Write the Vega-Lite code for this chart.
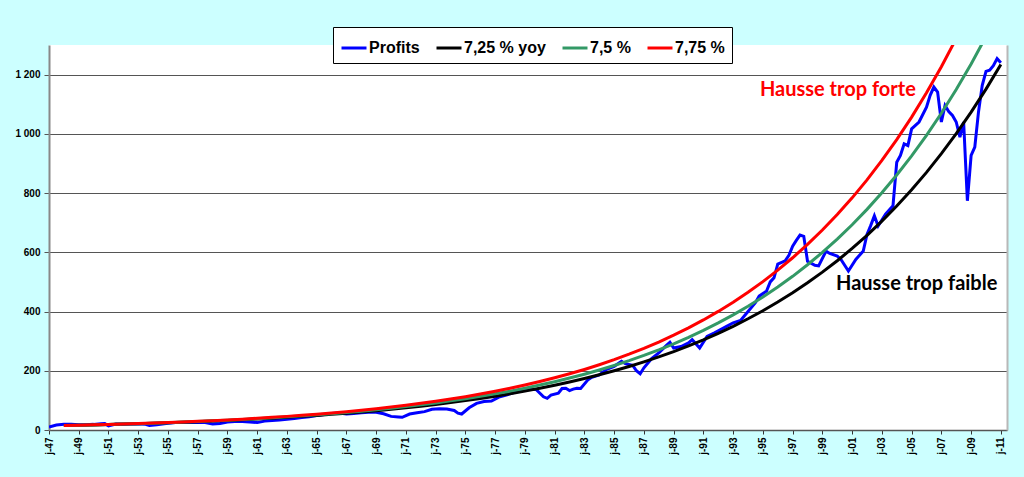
{
  "$schema": "https://vega.github.io/schema/vega-lite/v6.json",
  "width": 958,
  "height": 385,
  "autosize": "none",
  "padding": {"left": 49, "top": 45, "right": 17, "bottom": 47},
  "background": "#ccffff",
  "view": {"fill": "white", "stroke": null},
  "config": {"font": "Liberation Sans"},
  "datasets": {
    "series": [
      {"d": "1947-01-01", "Profits": 10}, {"d": "1947-07-01", "Profits": 17}, {"d": "1948-01-01", "Profits": 19}, {"d": "1948-07-01", "Profits": 19},
      {"d": "1949-01-01", "Profits": 18}, {"d": "1949-07-01", "Profits": 18}, {"d": "1950-01-01", "Profits": 19}, {"d": "1950-07-01", "Profits": 21},
      {"d": "1950-10-01", "Profits": 22}, {"d": "1951-01-01", "Profits": 14}, {"d": "1951-07-01", "Profits": 20}, {"d": "1952-01-01", "Profits": 19},
      {"d": "1952-07-01", "Profits": 20}, {"d": "1953-01-01", "Profits": 21}, {"d": "1953-07-01", "Profits": 19}, {"d": "1953-10-01", "Profits": 15},
      {"d": "1954-04-01", "Profits": 18}, {"d": "1955-01-01", "Profits": 23}, {"d": "1955-07-01", "Profits": 25}, {"d": "1956-01-01", "Profits": 25},
      {"d": "1956-07-01", "Profits": 25}, {"d": "1957-01-01", "Profits": 26}, {"d": "1957-07-01", "Profits": 25}, {"d": "1958-01-01", "Profits": 20},
      {"d": "1958-07-01", "Profits": 22}, {"d": "1959-01-01", "Profits": 27}, {"d": "1959-07-01", "Profits": 29}, {"d": "1960-01-01", "Profits": 29},
      {"d": "1960-07-01", "Profits": 27}, {"d": "1961-01-01", "Profits": 25}, {"d": "1961-07-01", "Profits": 30}, {"d": "1962-01-01", "Profits": 32},
      {"d": "1962-07-01", "Profits": 34}, {"d": "1963-01-01", "Profits": 36}, {"d": "1963-07-01", "Profits": 39}, {"d": "1964-01-01", "Profits": 42},
      {"d": "1964-07-01", "Profits": 45}, {"d": "1965-01-01", "Profits": 49}, {"d": "1965-07-01", "Profits": 52}, {"d": "1966-01-01", "Profits": 56},
      {"d": "1966-07-01", "Profits": 57}, {"d": "1967-01-01", "Profits": 54}, {"d": "1967-07-01", "Profits": 56}, {"d": "1968-01-01", "Profits": 58},
      {"d": "1968-07-01", "Profits": 60}, {"d": "1969-01-01", "Profits": 60}, {"d": "1969-07-01", "Profits": 55}, {"d": "1970-01-01", "Profits": 46},
      {"d": "1970-07-01", "Profits": 44}, {"d": "1970-10-01", "Profits": 43}, {"d": "1971-04-01", "Profits": 54}, {"d": "1971-10-01", "Profits": 58},
      {"d": "1972-04-01", "Profits": 62}, {"d": "1972-10-01", "Profits": 70}, {"d": "1973-04-01", "Profits": 72}, {"d": "1973-10-01", "Profits": 71},
      {"d": "1974-04-01", "Profits": 66}, {"d": "1974-07-01", "Profits": 57}, {"d": "1974-10-01", "Profits": 54}, {"d": "1975-04-01", "Profits": 75},
      {"d": "1975-10-01", "Profits": 90}, {"d": "1976-04-01", "Profits": 96}, {"d": "1976-10-01", "Profits": 98}, {"d": "1977-04-01", "Profits": 111},
      {"d": "1977-10-01", "Profits": 118}, {"d": "1978-04-01", "Profits": 126}, {"d": "1978-10-01", "Profits": 134}, {"d": "1979-04-01", "Profits": 138},
      {"d": "1979-10-01", "Profits": 137}, {"d": "1980-04-01", "Profits": 112}, {"d": "1980-07-01", "Profits": 107}, {"d": "1980-10-01", "Profits": 118},
      {"d": "1981-04-01", "Profits": 124}, {"d": "1981-07-01", "Profits": 140}, {"d": "1981-10-01", "Profits": 141}, {"d": "1982-01-01", "Profits": 133},
      {"d": "1982-04-01", "Profits": 138}, {"d": "1982-07-01", "Profits": 141}, {"d": "1982-10-01", "Profits": 140}, {"d": "1983-04-01", "Profits": 170},
      {"d": "1983-07-01", "Profits": 178}, {"d": "1984-01-01", "Profits": 186}, {"d": "1984-07-01", "Profits": 205}, {"d": "1985-01-01", "Profits": 215},
      {"d": "1985-07-01", "Profits": 232}, {"d": "1985-10-01", "Profits": 224}, {"d": "1986-04-01", "Profits": 218}, {"d": "1986-07-01", "Profits": 200},
      {"d": "1986-10-01", "Profits": 190}, {"d": "1987-01-01", "Profits": 210}, {"d": "1987-07-01", "Profits": 240}, {"d": "1988-01-01", "Profits": 260},
      {"d": "1988-07-01", "Profits": 285}, {"d": "1988-10-01", "Profits": 296}, {"d": "1989-01-01", "Profits": 277}, {"d": "1989-07-01", "Profits": 282},
      {"d": "1990-01-01", "Profits": 294}, {"d": "1990-04-01", "Profits": 305}, {"d": "1990-10-01", "Profits": 277}, {"d": "1991-04-01", "Profits": 316},
      {"d": "1991-10-01", "Profits": 328}, {"d": "1992-07-01", "Profits": 348}, {"d": "1993-01-01", "Profits": 362}, {"d": "1993-07-01", "Profits": 370},
      {"d": "1994-01-01", "Profits": 400}, {"d": "1994-07-01", "Profits": 430}, {"d": "1994-10-01", "Profits": 452}, {"d": "1995-04-01", "Profits": 469},
      {"d": "1995-07-01", "Profits": 500}, {"d": "1995-10-01", "Profits": 514}, {"d": "1996-01-01", "Profits": 560}, {"d": "1996-07-01", "Profits": 571},
      {"d": "1996-10-01", "Profits": 590}, {"d": "1997-01-01", "Profits": 621}, {"d": "1997-04-01", "Profits": 640}, {"d": "1997-07-01", "Profits": 658},
      {"d": "1997-10-01", "Profits": 654}, {"d": "1998-01-01", "Profits": 570}, {"d": "1998-07-01", "Profits": 556}, {"d": "1998-10-01", "Profits": 554},
      {"d": "1999-04-01", "Profits": 604}, {"d": "1999-07-01", "Profits": 596}, {"d": "2000-01-01", "Profits": 587}, {"d": "2000-04-01", "Profits": 576},
      {"d": "2000-10-01", "Profits": 537}, {"d": "2001-04-01", "Profits": 576}, {"d": "2001-07-01", "Profits": 590}, {"d": "2001-10-01", "Profits": 604},
      {"d": "2002-01-01", "Profits": 660}, {"d": "2002-04-01", "Profits": 690}, {"d": "2002-07-01", "Profits": 723}, {"d": "2002-10-01", "Profits": 689},
      {"d": "2003-04-01", "Profits": 729}, {"d": "2003-10-01", "Profits": 757}, {"d": "2004-01-01", "Profits": 904}, {"d": "2004-04-01", "Profits": 927},
      {"d": "2004-07-01", "Profits": 966}, {"d": "2004-10-01", "Profits": 960}, {"d": "2005-01-01", "Profits": 1017}, {"d": "2005-07-01", "Profits": 1040},
      {"d": "2006-01-01", "Profits": 1090}, {"d": "2006-04-01", "Profits": 1130}, {"d": "2006-07-01", "Profits": 1158}, {"d": "2006-10-01", "Profits": 1141},
      {"d": "2007-01-01", "Profits": 1040}, {"d": "2007-04-01", "Profits": 1096}, {"d": "2007-07-01", "Profits": 1075}, {"d": "2007-10-01", "Profits": 1062},
      {"d": "2008-01-01", "Profits": 1040}, {"d": "2008-04-01", "Profits": 989}, {"d": "2008-07-01", "Profits": 1040}, {"d": "2008-10-01", "Profits": 774},
      {"d": "2009-01-01", "Profits": 927}, {"d": "2009-04-01", "Profits": 955}, {"d": "2009-07-01", "Profits": 1074}, {"d": "2009-10-01", "Profits": 1164},
      {"d": "2010-01-01", "Profits": 1211}, {"d": "2010-04-01", "Profits": 1215}, {"d": "2010-07-01", "Profits": 1230}, {"d": "2010-10-01", "Profits": 1254},
      {"d": "2011-01-01", "Profits": 1240},
      {"d": "1948-01-01", "7,25 % yoy": 15.0, "7,5 %": 15.0, "7,75 %": 15.0}, {"d": "1949-01-01", "7,25 % yoy": 16.1, "7,5 %": 16.1, "7,75 %": 16.2},
      {"d": "1950-01-01", "7,25 % yoy": 17.3, "7,5 %": 17.3, "7,75 %": 17.4}, {"d": "1951-01-01", "7,25 % yoy": 18.5, "7,5 %": 18.6, "7,75 %": 18.8},
      {"d": "1952-01-01", "7,25 % yoy": 19.9, "7,5 %": 20.0, "7,75 %": 20.2}, {"d": "1953-01-01", "7,25 % yoy": 21.3, "7,5 %": 21.5, "7,75 %": 21.8},
      {"d": "1954-01-01", "7,25 % yoy": 22.8, "7,5 %": 23.1, "7,75 %": 23.5}, {"d": "1955-01-01", "7,25 % yoy": 24.5, "7,5 %": 24.9, "7,75 %": 25.3},
      {"d": "1956-01-01", "7,25 % yoy": 26.3, "7,5 %": 26.8, "7,75 %": 27.3}, {"d": "1957-01-01", "7,25 % yoy": 28.2, "7,5 %": 28.8, "7,75 %": 29.4},
      {"d": "1958-01-01", "7,25 % yoy": 30.2, "7,5 %": 30.9, "7,75 %": 31.6}, {"d": "1959-01-01", "7,25 % yoy": 32.4, "7,5 %": 33.2, "7,75 %": 34.1},
      {"d": "1960-01-01", "7,25 % yoy": 34.8, "7,5 %": 35.7, "7,75 %": 36.7}, {"d": "1961-01-01", "7,25 % yoy": 37.3, "7,5 %": 38.4, "7,75 %": 39.6},
      {"d": "1962-01-01", "7,25 % yoy": 40.0, "7,5 %": 41.3, "7,75 %": 42.7}, {"d": "1963-01-01", "7,25 % yoy": 42.9, "7,5 %": 44.4, "7,75 %": 46.0},
      {"d": "1964-01-01", "7,25 % yoy": 46.0, "7,5 %": 47.7, "7,75 %": 49.5}, {"d": "1965-01-01", "7,25 % yoy": 49.3, "7,5 %": 51.3, "7,75 %": 53.4},
      {"d": "1966-01-01", "7,25 % yoy": 52.9, "7,5 %": 55.1, "7,75 %": 57.5}, {"d": "1967-01-01", "7,25 % yoy": 56.7, "7,5 %": 59.3, "7,75 %": 62.0},
      {"d": "1968-01-01", "7,25 % yoy": 60.8, "7,5 %": 63.7, "7,75 %": 66.8}, {"d": "1969-01-01", "7,25 % yoy": 65.2, "7,5 %": 68.5, "7,75 %": 71.9},
      {"d": "1970-01-01", "7,25 % yoy": 70.0, "7,5 %": 73.6, "7,75 %": 77.5}, {"d": "1971-01-01", "7,25 % yoy": 75.0, "7,5 %": 79.2, "7,75 %": 83.5},
      {"d": "1972-01-01", "7,25 % yoy": 80.5, "7,5 %": 85.1, "7,75 %": 90.0}, {"d": "1973-01-01", "7,25 % yoy": 86.3, "7,5 %": 91.5, "7,75 %": 97.0},
      {"d": "1974-01-01", "7,25 % yoy": 92.6, "7,5 %": 98.3, "7,75 %": 104.5}, {"d": "1975-01-01", "7,25 % yoy": 99.3, "7,5 %": 105.7, "7,75 %": 112.6},
      {"d": "1976-01-01", "7,25 % yoy": 106.5, "7,5 %": 113.7, "7,75 %": 121.3}, {"d": "1977-01-01", "7,25 % yoy": 114.2, "7,5 %": 122.2, "7,75 %": 130.7},
      {"d": "1978-01-01", "7,25 % yoy": 122.5, "7,5 %": 131.3, "7,75 %": 140.8}, {"d": "1979-01-01", "7,25 % yoy": 131.4, "7,5 %": 141.2, "7,75 %": 151.7},
      {"d": "1980-01-01", "7,25 % yoy": 141.0, "7,5 %": 151.8, "7,75 %": 163.5}, {"d": "1981-01-01", "7,25 % yoy": 151.2, "7,5 %": 163.2, "7,75 %": 176.2},
      {"d": "1982-01-01", "7,25 % yoy": 162.1, "7,5 %": 175.4, "7,75 %": 189.8}, {"d": "1983-01-01", "7,25 % yoy": 173.9, "7,5 %": 188.5, "7,75 %": 204.5},
      {"d": "1984-01-01", "7,25 % yoy": 186.5, "7,5 %": 202.7, "7,75 %": 220.4}, {"d": "1985-01-01", "7,25 % yoy": 200.0, "7,5 %": 217.9, "7,75 %": 237.5},
      {"d": "1986-01-01", "7,25 % yoy": 214.5, "7,5 %": 234.2, "7,75 %": 255.9}, {"d": "1987-01-01", "7,25 % yoy": 230.1, "7,5 %": 251.8, "7,75 %": 275.7},
      {"d": "1988-01-01", "7,25 % yoy": 246.8, "7,5 %": 270.7, "7,75 %": 297.1}, {"d": "1989-01-01", "7,25 % yoy": 264.7, "7,5 %": 291.0, "7,75 %": 320.1},
      {"d": "1990-01-01", "7,25 % yoy": 283.9, "7,5 %": 312.8, "7,75 %": 344.9}, {"d": "1991-01-01", "7,25 % yoy": 304.5, "7,5 %": 336.3, "7,75 %": 371.6},
      {"d": "1992-01-01", "7,25 % yoy": 326.5, "7,5 %": 361.5, "7,75 %": 400.4}, {"d": "1993-01-01", "7,25 % yoy": 350.2, "7,5 %": 388.6, "7,75 %": 431.4},
      {"d": "1994-01-01", "7,25 % yoy": 375.6, "7,5 %": 417.7, "7,75 %": 464.9}, {"d": "1995-01-01", "7,25 % yoy": 402.8, "7,5 %": 449.1, "7,75 %": 500.9},
      {"d": "1996-01-01", "7,25 % yoy": 432.0, "7,5 %": 482.7, "7,75 %": 539.7}, {"d": "1997-01-01", "7,25 % yoy": 463.3, "7,5 %": 518.9, "7,75 %": 581.6},
      {"d": "1998-01-01", "7,25 % yoy": 496.9, "7,5 %": 557.9, "7,75 %": 626.6}, {"d": "1999-01-01", "7,25 % yoy": 533.0, "7,5 %": 599.7, "7,75 %": 675.2},
      {"d": "2000-01-01", "7,25 % yoy": 571.6, "7,5 %": 644.7, "7,75 %": 727.5}, {"d": "2001-01-01", "7,25 % yoy": 613.0, "7,5 %": 693.0, "7,75 %": 783.9},
      {"d": "2002-01-01", "7,25 % yoy": 657.5, "7,5 %": 745.0, "7,75 %": 844.6}, {"d": "2003-01-01", "7,25 % yoy": 705.2, "7,5 %": 800.9, "7,75 %": 910.1},
      {"d": "2004-01-01", "7,25 % yoy": 756.3, "7,5 %": 861.0, "7,75 %": 980.6}, {"d": "2005-01-01", "7,25 % yoy": 811.1, "7,5 %": 925.5, "7,75 %": 1056.6},
      {"d": "2006-01-01", "7,25 % yoy": 869.9, "7,5 %": 994.9, "7,75 %": 1138.5}, {"d": "2007-01-01", "7,25 % yoy": 933.0, "7,5 %": 1069.6, "7,75 %": 1226.7},
      {"d": "2008-01-01", "7,25 % yoy": 1000.6, "7,5 %": 1149.8, "7,75 %": 1321.8}, {"d": "2009-01-01", "7,25 % yoy": 1073.2, "7,5 %": 1236.0},
      {"d": "2010-01-01", "7,25 % yoy": 1151.0, "7,5 %": 1328.7}, {"d": "2011-01-01", "7,25 % yoy": 1234.4}
    ]
  },
  "layer": [
    {
      "data": {"name": "series"},
      "transform": [
        {"fold": ["Profits", "7,25 % yoy", "7,5 %", "7,75 %"], "as": ["s", "v"]},
        {"filter": "isValid(datum.v)"}
      ],
      "mark": {"type": "line", "strokeWidth": 3, "clip": true},
      "encoding": {
        "x": {
          "field": "d", "type": "temporal",
          "scale": {"type": "utc", "domain": ["1947-01-01", "2011-06-01"]},
          "axis": {
            "title": null, "grid": false, "tickCount": 40,
            "values": [
              {"year": 1947, "utc": true}, {"year": 1949, "utc": true}, {"year": 1951, "utc": true}, {"year": 1953, "utc": true},
              {"year": 1955, "utc": true}, {"year": 1957, "utc": true}, {"year": 1959, "utc": true}, {"year": 1961, "utc": true},
              {"year": 1963, "utc": true}, {"year": 1965, "utc": true}, {"year": 1967, "utc": true}, {"year": 1969, "utc": true},
              {"year": 1971, "utc": true}, {"year": 1973, "utc": true}, {"year": 1975, "utc": true}, {"year": 1977, "utc": true},
              {"year": 1979, "utc": true}, {"year": 1981, "utc": true}, {"year": 1983, "utc": true}, {"year": 1985, "utc": true},
              {"year": 1987, "utc": true}, {"year": 1989, "utc": true}, {"year": 1991, "utc": true}, {"year": 1993, "utc": true},
              {"year": 1995, "utc": true}, {"year": 1997, "utc": true}, {"year": 1999, "utc": true}, {"year": 2001, "utc": true},
              {"year": 2003, "utc": true}, {"year": 2005, "utc": true}, {"year": 2007, "utc": true}, {"year": 2009, "utc": true},
              {"year": 2011, "utc": true}
            ],
            "labelExpr": "'j-' + utcFormat(datum.value, '%y')",
            "labelAngle": 270, "labelAlign": "right", "labelBaseline": "middle",
            "labelFontSize": 10, "labelFontWeight": "bold", "labelColor": "black",
            "labelFlush": false, "labelOverlap": false, "labelPadding": 3,
            "tickColor": "#333", "tickSize": 4, "domainColor": "#555", "domainWidth": 1.5
          }
        },
        "y": {
          "field": "v", "type": "quantitative",
          "scale": {"domain": [0, 1300], "nice": false},
          "axis": {
            "title": null,
            "values": [0, 200, 400, 600, 800, 1000, 1200],
            "labelExpr": "replace(format(datum.value, ',d'), ',', ' ')",
            "labelFontSize": 10, "labelFontWeight": "bold", "labelColor": "black",
            "labelPadding": 4, "grid": true, "gridColor": "#555", "gridWidth": 1,
            "tickColor": "#555", "tickSize": 5, "domainColor": "#888", "domainWidth": 2
          }
        },
        "color": {
          "field": "s", "type": "nominal",
          "scale": {
            "domain": ["Profits", "7,25 % yoy", "7,5 %", "7,75 %"],
            "range": ["#0000ff", "#000000", "#339966", "#ff0000"]
          },
          "legend": {
            "title": null, "orient": "none", "legendX": 284, "legendY": -18,
            "direction": "horizontal", "symbolType": "stroke", "symbolStrokeWidth": 3,
            "symbolSize": 625, "labelFontSize": 16, "labelFontWeight": "bold",
            "labelColor": "black", "labelOffset": 1, "columnPadding": 10, "padding": 7,
            "fillColor": "white", "strokeColor": "black", "labelLimit": 200
          }
        }
      }
    },
    {
      "data": {"values": [{"d": "1994-10-20", "v": 1148, "t": "Hausse trop forte"}]},
      "mark": {"type": "text", "align": "left", "baseline": "middle", "font": "Lato", "fontWeight": "bold", "fontSize": 20, "color": "#ff0000"},
      "encoding": {
        "x": {"field": "d", "type": "temporal", "scale": {"type": "utc"}},
        "y": {
          "field": "v", "type": "quantitative",
          "scale": {"domain": [0, 1300], "nice": false},
          "axis": {"orient": "right", "title": null, "labels": false, "ticks": false, "grid": false, "domainColor": "#b8b8b8", "domainWidth": 2}
        },
        "text": {"field": "t"}
      }
    },
    {
      "data": {"values": [{"d": "1999-12-01", "v": 493, "t": "Hausse trop faible"}]},
      "mark": {"type": "text", "align": "left", "baseline": "middle", "font": "Lato", "fontWeight": "bold", "fontSize": 20, "color": "#000000"},
      "encoding": {
        "x": {"field": "d", "type": "temporal", "scale": {"type": "utc"}},
        "y": {"field": "v", "type": "quantitative", "scale": {"domain": [0, 1300], "nice": false}, "axis": null},
        "text": {"field": "t"}
      }
    }
  ],
  "resolve": {"scale": {"y": "independent"}}
}
